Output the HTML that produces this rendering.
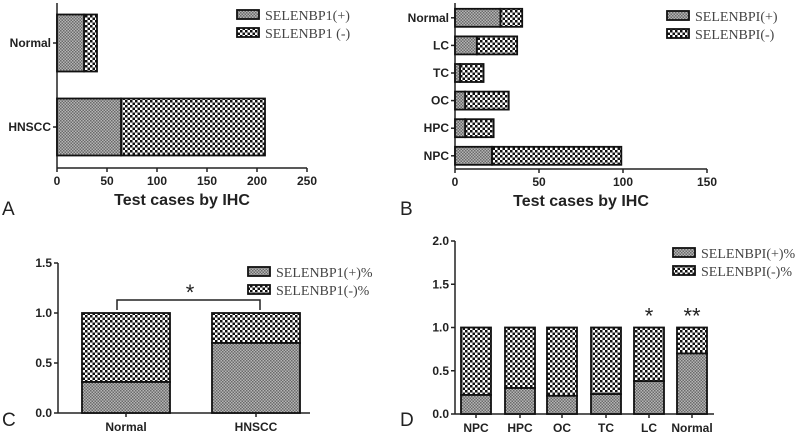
<!DOCTYPE html>
<html><head><meta charset="utf-8"><style>
body{margin:0;background:#fff;}
svg{display:block;font-family:"Liberation Sans",sans-serif;}
.tk{font-size:12px;font-weight:bold;fill:#222;}
.lg{font-family:"Liberation Serif",serif;font-size:14px;fill:#444;}
.ttl{font-size:16px;font-weight:bold;fill:#222;}
.pl{font-size:19px;fill:#222;}
</style></head><body>
<svg id="c" width="800" height="435" viewBox="0 0 800 435">
<defs>
<pattern id="pos" width="3" height="3" patternUnits="userSpaceOnUse"><rect width="3" height="3" fill="#b5b5b5"/><rect width="1.5" height="1.5" fill="#6a6a6a"/><rect x="1.5" y="1.5" width="1.5" height="1.5" fill="#6a6a6a"/></pattern>
<pattern id="neg" width="5" height="5" patternUnits="userSpaceOnUse"><rect width="5" height="5" fill="#fff"/><rect width="2.5" height="2.5" fill="#111"/><rect x="2.5" y="2.5" width="2.5" height="2.5" fill="#111"/></pattern>
</defs>
<g id="g"></g>
</svg>
<script>
// Panel A
const aCats=["Normal","HNSCC"];
const aPos=[27,64];
const aTot=[40,208];
const aTicks=[0,50,100,150,200,250];
// Panel B
const bCats=["Normal","LC","TC","OC","HPC","NPC"];
const bPos=[27,13,3,6,6,22];
const bTot=[40,37,17,32,23,99];
const bTicks=[0,50,100,150];
// Panel C
const cCats=["Normal","HNSCC"];
const cPos=[0.31,0.70];
const cTicks=[0,0.5,1.0,1.5];
// Panel D
const dCats=["NPC","HPC","OC","TC","LC","Normal"];
const dPos=[0.22,0.30,0.21,0.23,0.38,0.70];
const dStars=["","","","","*","**"];
const dTicks=[0,0.5,1.0,1.5,2.0];

const NS="http://www.w3.org/2000/svg";
const G=document.getElementById('g');
function el(tag,attrs,name,txt){const e=document.createElementNS(NS,tag);for(const k in attrs)e.setAttribute(k,attrs[k]);


if(txt!==undefined)e.textContent=txt;G.appendChild(e);return e;}
function line(x1,y1,x2,y2,name,w){return el('line',{x1,y1,x2,y2,stroke:'#222','stroke-width':w||1.5},name);}
function bar(x,y,w,h,fill,name){return el('rect',{x,y,width:Math.max(w,0),height:Math.max(h,0),fill:'url(#'+fill+')',stroke:'#111','stroke-width':1.8},name);}
function legend(x,y,l1,l2,name){
  bar(x,y,22,9,'pos',name+'-pos-swatch');el('text',{x:x+28,y:y+10,class:'lg'},name+'-pos-label',l1);
  bar(x,y+18,22,9,'neg',name+'-neg-swatch');el('text',{x:x+28,y:y+28,class:'lg'},name+'-neg-label',l2);
}

function hpanel(p,cats,pos,tot,ticks,x0,x1,y0,y1,bandTop,band,bh,xmax){
  const sx=v=>x0+(v/xmax)*(x1-x0);
  line(x0,y0,x0,y1,p+'-y-axis');line(x0,y1,x1,y1,p+'-x-axis');
  ticks.forEach(t=>{line(sx(t),y1,sx(t),y1+4,p+'-x-tick');el('text',{x:sx(t),y:y1+17,class:'tk','text-anchor':'middle'},p+'-x-tick-label',String(t));});
  cats.forEach((c,i)=>{const cy=bandTop+band*i+band/2;
    line(x0-4,cy,x0,cy,p+'-y-tick');
    el('text',{x:x0-6,y:cy+4,class:'tk','text-anchor':'end'},p+'-y-label-'+c.toLowerCase(),c);
    bar(sx(pos[i]),cy-bh/2,sx(tot[i])-sx(pos[i]),bh,'neg',p+'-bar-neg-'+c.toLowerCase());
    bar(x0,cy-bh/2,sx(pos[i])-x0,bh,'pos',p+'-bar-pos-'+c.toLowerCase());
  });
  el('text',{x:(x0+x1)/2,y:y1+37,class:'ttl','text-anchor':'middle'},p+'-x-axis-title','Test cases by IHC');
}
hpanel('a',aCats,aPos,aTot,aTicks,57,307,3,168,1,84,57,250);
el('text',{x:2,y:215,class:'pl'},'panel-a-label','A');
legend(237,10,'SELENBP1(+)','SELENBP1 (-)','a-legend');
hpanel('b',bCats,bPos,bTot,bTicks,455,707,3,169,4,27.6,18,150);
el('text',{x:400,y:215,class:'pl'},'panel-b-label','B');
legend(667,11,'SELENBPI(+)','SELENBPI(-)','b-legend');

function vpanel(p,cats,pos,ticks,x0,x1,y0,yTop,ymax,xs,bw){
  const sy=v=>y0-(v/ymax)*(y0-yTop);
  line(x0,yTop,x0,y0,p+'-y-axis');line(x0,y0,x1,y0,p+'-x-axis');
  ticks.forEach(t=>{line(x0-4,sy(t),x0,sy(t),p+'-y-tick');el('text',{x:x0-6,y:sy(t)+4,class:'tk','text-anchor':'end'},p+'-y-tick-label',t.toFixed(1));});
  cats.forEach((c,i)=>{const cx=xs[i];
    bar(cx-bw/2,sy(1),bw,sy(pos[i])-sy(1),'neg',p+'-bar-neg-'+c.toLowerCase());
    bar(cx-bw/2,sy(pos[i]),bw,y0-sy(pos[i]),'pos',p+'-bar-pos-'+c.toLowerCase());
    line(cx,y0,cx,y0+4,p+'-x-tick');
    el('text',{x:cx,y:y0+18,class:'tk','text-anchor':'middle'},p+'-x-label-'+c.toLowerCase(),c);
  });
  return sy;
}
const syc=vpanel('c',cCats,cPos,cTicks,58,310,413,263,1.5,[126,256],88);
el('text',{x:2,y:426,class:'pl'},'panel-c-label','C');
el('path',{d:'M117 310 V300 H260 V310',fill:'none',stroke:'#222','stroke-width':1.5},'c-significance-bracket');
el('text',{x:190,y:300,'font-size':'22',fill:'#222','text-anchor':'middle'},'c-significance-star','*');
legend(248,267,'SELENBP1(+)%','SELENBP1(-)%','c-legend');
const dx=[476,520,562,606,649,692];
const syd=vpanel('d',dCats,dPos,dTicks,455,714,414,241,2.0,dx,30);
dStars.forEach((s,i)=>{if(s)el('text',{x:dx[i],y:syd(1)-4,'font-size':'22',fill:'#222','text-anchor':'middle'},'d-significance-star-'+dCats[i].toLowerCase(),s);});
el('text',{x:400,y:426,class:'pl'},'panel-d-label','D');
legend(673,248,'SELENBPI(+)%','SELENBPI(-)%','d-legend');
</script>
</body></html>
